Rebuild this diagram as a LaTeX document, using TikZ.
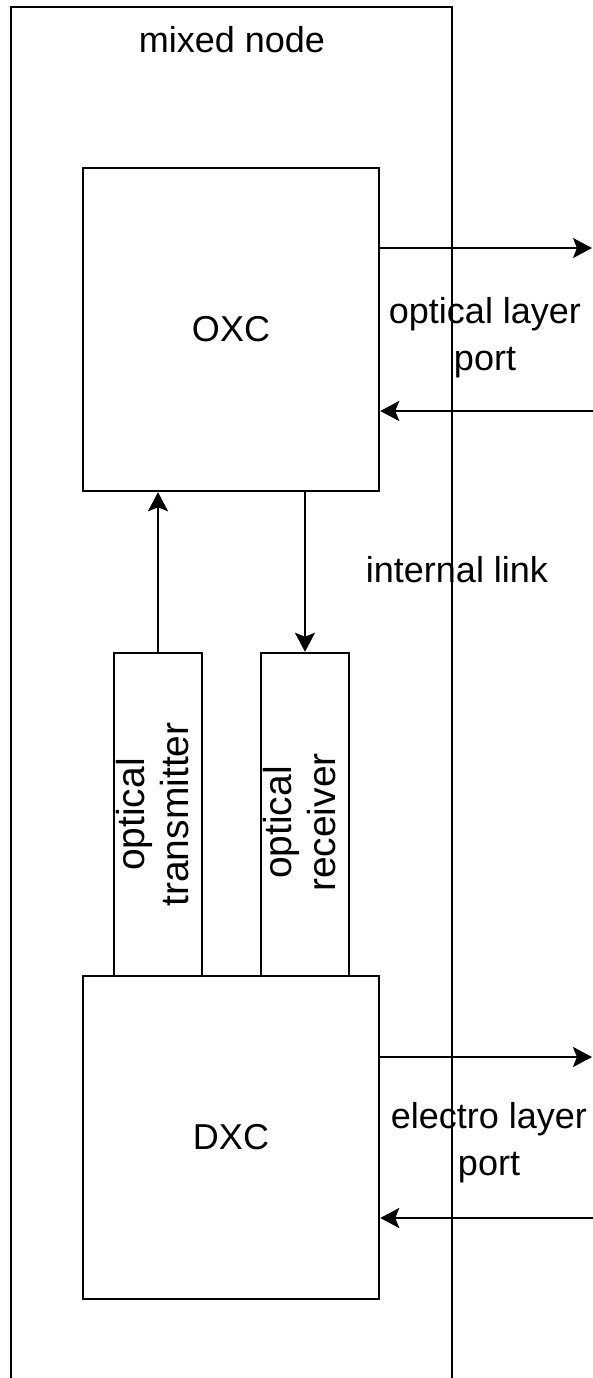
\documentclass[tikz,border=0pt]{standalone}
\usepackage{fontspec}
\setmainfont{Liberation Sans}
\usepackage{graphicx}
\usetikzlibrary{arrows.meta}
\begin{document}
\begin{tikzpicture}[x=0.5pt,y=-0.5pt,
  txt/.style={font=\fontsize{18}{23.5}\selectfont, align=center},
  vtxt/.style={font=\fontsize{19.5}{22}\selectfont},
  box/.style={draw, line width=1.25pt, inner sep=0pt, txt},
  lbl/.style={inner sep=0pt, txt},
  arr/.style={line width=1.25pt, -{Stealth[length=9.5pt,width=10pt,inset=2pt]}}]
\clip (0,0) rectangle (593,1378);
\useasboundingbox (0,0) rectangle (593,1378);
% container
\node[box, minimum width=220.5pt, minimum height=696.5pt] (mixed) at (231.5,703.5) {};
\node[lbl] (mixedlbl) at (232,40) {mixed node};
% main boxes
\node[box, minimum width=148pt, minimum height=161.5pt] (oxc) at (231,329.5) {OXC};
\node[box, minimum width=148pt, minimum height=161.5pt] (dxc) at (231,1137.5) {DXC};
\node[box, vtxt, minimum width=44pt, minimum height=161.5pt] (tx) at (158,814.5)
  {\rotatebox{90}{\begin{tabular}{@{}c@{}}optical\\transmitter\end{tabular}}};
\node[box, vtxt, minimum width=44pt, minimum height=161.5pt] (rx) at (305,814.5)
  {\rotatebox{90}{\hbox{\begin{tabular}{@{}c@{}}optical\\receiver\end{tabular}\kern8pt}}};
% labels
\node[lbl] (optlbl) at (485,338) {optical layer\\port};
\node[lbl] (intlbl) at (457,570) {internal link};
\node[lbl] (elelbl) at (489,1143) {electro layer\\port};
% free ends
\coordinate (oout) at (592,248);
\coordinate (oin) at (593,411);
\coordinate (dout) at (592,1057);
\coordinate (din) at (593,1218);
% connectors
\draw[arr] (oxc.east |- oout) -- (oout);
\draw[arr] (oin) -- (oxc.east |- oin);
\draw[arr] (dxc.east |- dout) -- (dout);
\draw[arr] (din) -- (dxc.east |- din);
\draw[arr] (tx.north) -- (tx.north |- oxc.south);
\draw[arr] (oxc.south -| rx.north) -- (rx.north);
\end{tikzpicture}
\end{document}
